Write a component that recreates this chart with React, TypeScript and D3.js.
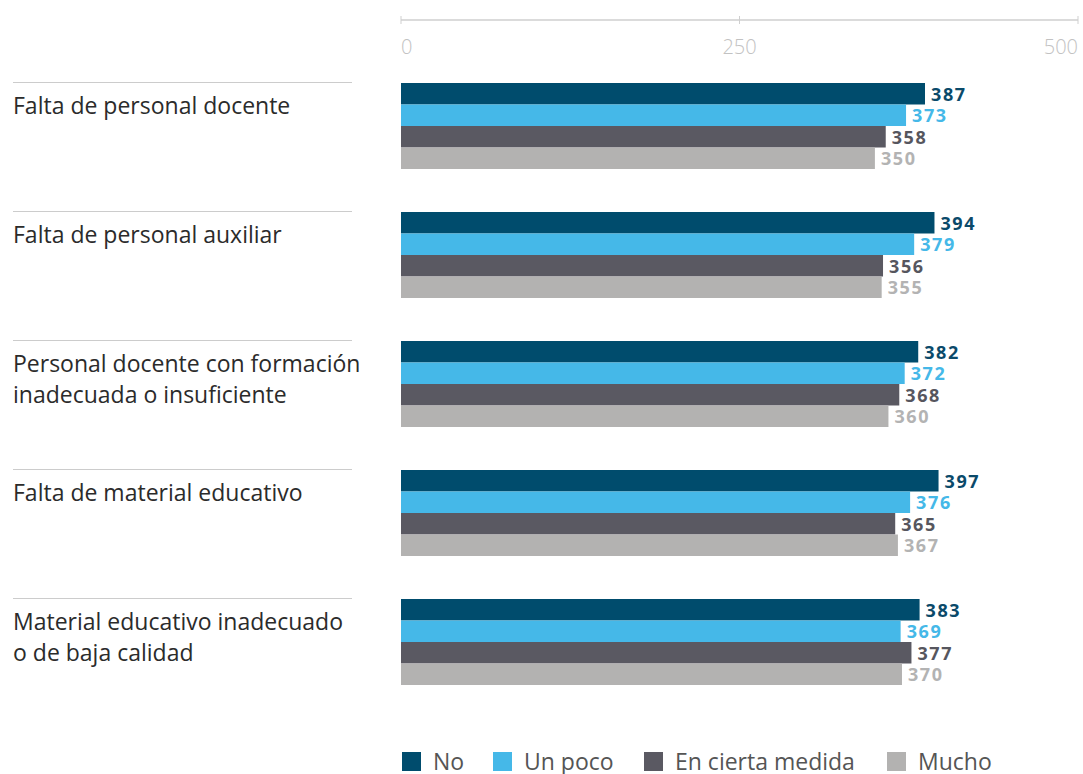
import { useEffect, useRef } from "react";
import * as d3 from "d3";

// Catégories (libellés sur plusieurs lignes)
const categories = [
  ["Falta de personal docente"],
  ["Falta de personal auxiliar"],
  ["Personal docente con formación", "inadecuada o insuficiente"],
  ["Falta de material educativo"],
  ["Material educativo inadecuado", "o de baja calidad"],
];

const seriesNames = ["No", "Un poco", "En cierta medida", "Mucho"];

const valuesNo = [387, 394, 382, 397, 383];
const valuesUnPoco = [373, 379, 372, 376, 369];
const valuesEnCierta = [358, 356, 368, 365, 377];
const valuesMucho = [350, 355, 360, 367, 370];

const axisTicks = [0, 250, 500];

const barColors = ["#004c6d", "#45b8e8", "#5a5962", "#b3b2b1"];
const labelColors = ["#0b4a6a", "#45b8e8", "#56565e", "#b3b3b3"];

const WIDTH = 1083;
const HEIGHT = 774;
const FONT = "'Open Sans', sans-serif";

interface Cell {
  row: number;
  s: number;
  value: number;
  text: string;
}

export default function App() {
  const svgRef = useRef<SVGSVGElement>(null);

  useEffect(() => {
    if (!svgRef.current) return;
    const svg = d3.select(svgRef.current);
    svg.selectAll("*").remove();

    const series = [valuesNo, valuesUnPoco, valuesEnCierta, valuesMucho];
    const rowKeys = categories.map((_, i) => String(i));

    const cells: Cell[] = [];
    categories.forEach((_, r) => {
      series.forEach((vals, s) => {
        cells.push({ row: r, s, value: vals[r], text: String(vals[r]) });
      });
    });

    // Échelles
    const xScale = d3.scaleLinear().domain([0, 500]).range([401, 1078]);

    // Pas de 129 px entre groupes, groupes de 86 px
    const step = 129;
    const groupH = 86;
    const yScale = d3
      .scaleBand()
      .domain(rowKeys)
      .range([83, 83 + step * rowKeys.length - (step - groupH)])
      .paddingInner((step - groupH) / step)
      .paddingOuter(0);

    const inner = d3
      .scaleBand()
      .domain(seriesNames)
      .range([0, yScale.bandwidth()])
      .padding(0);

    const barY = (c: Cell) => (yScale(String(c.row)) || 0) + (inner(seriesNames[c.s]) || 0);

    // Axe du haut
    const axisG = svg.append("g").attr("transform", "translate(0,20)");
    axisG
      .append("line")
      .attr("x1", xScale(0))
      .attr("x2", xScale(500))
      .attr("stroke", "#cfcfcf")
      .attr("stroke-width", 1.5);
    axisG
      .selectAll("line.tick")
      .data(axisTicks)
      .enter()
      .append("line")
      .attr("class", "tick")
      .attr("x1", (d) => xScale(d))
      .attr("x2", (d) => xScale(d))
      .attr("y1", -4)
      .attr("y2", 4)
      .attr("stroke", "#cfcfcf");
    axisG
      .selectAll("text.tick-label")
      .data(axisTicks)
      .enter()
      .append("text")
      .attr("class", "tick-label")
      .attr("x", (d) => xScale(d))
      .attr("y", 34)
      .attr("text-anchor", (_, i) => (i === 0 ? "start" : i === axisTicks.length - 1 ? "end" : "middle"))
      .style("font-family", FONT)
      .style("font-weight", 300)
      .style("font-size", "20px")
      .style("fill", "#c2c2c2")
      .text((d) => String(d));

    // Séparateurs
    svg
      .selectAll("line.sep")
      .data(rowKeys)
      .enter()
      .append("line")
      .attr("class", "sep")
      .attr("x1", 13)
      .attr("x2", 352)
      .attr("y1", (k) => (yScale(k) || 0) - 0.5)
      .attr("y2", (k) => (yScale(k) || 0) - 0.5)
      .attr("stroke", "#cccccc")
      .attr("stroke-width", 1);

    // Libellés catégories
    categories.forEach((lines, r) => {
      const top = yScale(String(r)) || 0;
      const t = svg
        .append("text")
        .attr("class", "cat")
        .style("font-family", FONT)
        .style("font-size", "23px")
        .style("fill", "#2b2b2b");
      lines.forEach((line, li) => {
        t.append("tspan")
          .attr("x", 13)
          .attr("y", top + 31 + li * 31)
          .text(line);
      });
    });

    // Barres
    svg
      .selectAll("rect.bar")
      .data(cells)
      .enter()
      .append("rect")
      .attr("class", "bar")
      .attr("x", xScale(0))
      .attr("y", (c) => barY(c))
      .attr("width", (c) => xScale(c.value) - xScale(0))
      .attr("height", inner.bandwidth())
      .attr("fill", (c) => barColors[c.s]);

    // Valeurs
    svg
      .selectAll("text.val")
      .data(cells)
      .enter()
      .append("text")
      .attr("class", "val")
      .attr("x", (c) => xScale(c.value) + 6)
      .attr("y", (c) => barY(c) + inner.bandwidth() / 2)
      .attr("dy", "0.4em")
      .style("font-family", FONT)
      .style("font-weight", 700)
      .style("font-size", "18px")
      .style("letter-spacing", "1.6px")
      .style("fill", (c) => labelColors[c.s])
      .text((c) => c.text);

    // Légende
    const legendX = [402, 493, 644, 887];
    const legend = svg
      .selectAll("g.legend")
      .data(seriesNames)
      .enter()
      .append("g")
      .attr("class", "legend")
      .attr("transform", (_, i) => `translate(${legendX[i]},752)`);
    legend
      .append("rect")
      .attr("width", 19)
      .attr("height", 19)
      .attr("fill", (_, i) => barColors[i]);
    legend
      .append("text")
      .attr("x", 31)
      .attr("y", 18)
      .style("font-family", FONT)
      .style("font-size", "23px")
      .style("fill", "#555555")
      .text((d) => d);
  }, []);

  return (
    <svg
      ref={svgRef}
      width={WIDTH}
      height={HEIGHT}
      style={{ position: "absolute", left: 0, top: 0, background: "#fff" }}
    />
  );
}
